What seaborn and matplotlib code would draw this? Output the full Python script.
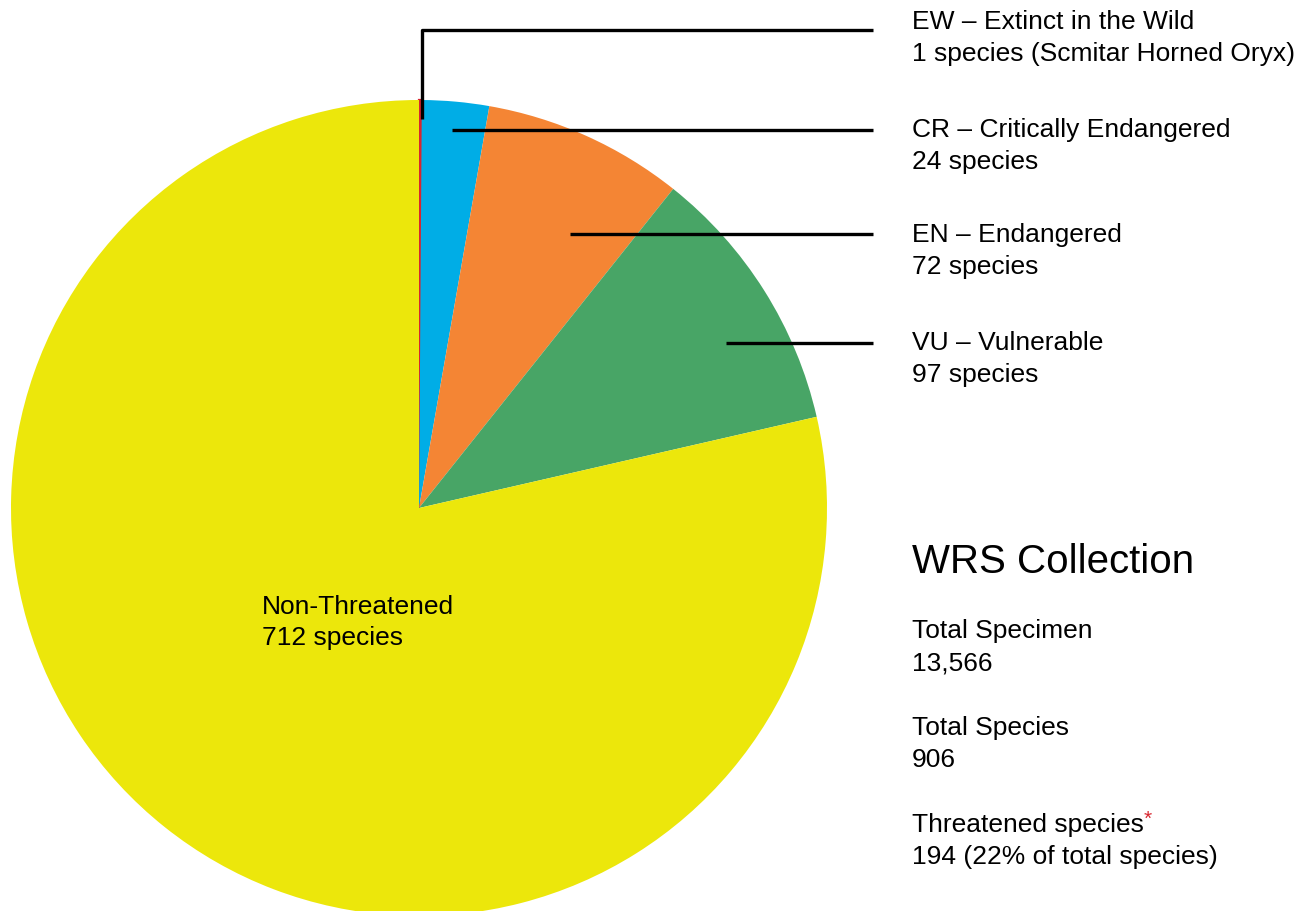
import matplotlib
matplotlib.use('Agg')
import matplotlib.pyplot as plt
import seaborn as sns

# ── Data ──
categories = ["EW", "CR", "EN", "VU", "Non-Threatened"]
species_counts = [1, 24, 72, 97, 712]
slice_colors = ["#D8262F", "#00ADE6", "#F48534", "#48A566", "#ECE70B"]

label_titles = ["EW – Extinct in the Wild", "CR – Critically Endangered",
                "EN – Endangered", "VU – Vulnerable"]
label_subs = ["1 species (Scmitar Horned Oryx)", "24 species",
              "72 species", "97 species"]

summary_title = "WRS Collection"
summary_heads = ["Total Specimen", "Total Species", "Threatened species"]
summary_values = ["13,566", "906", "194 (22% of total species)"]

# ── Style ──
sns.set_theme(style="white")
plt.rcParams['font.family'] = ['Liberation Sans', 'DejaVu Sans']
plt.rcParams['text.color'] = 'black'

W, H = 1302, 911
fig = plt.figure(figsize=(W / 100, H / 100), dpi=100)
ax = fig.add_axes([0, 0, 1, 1])


def Y(y_top):
    """pixel row (from top) -> data y"""
    return H - y_top


cx, cy, r = 419, 508, 408
wedges, _ = ax.pie(species_counts, colors=slice_colors, startangle=90,
                   counterclock=False, center=(cx, Y(cy)), radius=r,
                   wedgeprops={'linewidth': 0})
# the 1-species slice is barely a pixel wide: outline it so it stays visible
wedges[0].set_edgecolor(slice_colors[0])
wedges[0].set_linewidth(1.6)
ax.set_xlim(0, W)
ax.set_ylim(0, H)
ax.set_aspect('auto')
ax.axis('off')

# ── Leader lines ──
lw = 2.4
ax.plot([422, 422, 873], [Y(119), Y(30), Y(30)], color='black', lw=lw,
        solid_capstyle='butt')
for x0, y0 in [(452, 130), (570, 234), (726, 343)]:
    ax.plot([x0, 873], [Y(y0), Y(y0)], color='black', lw=lw,
            solid_capstyle='butt')

# ── Category labels ──
fs = 19
for i, (t, s) in enumerate(zip(label_titles, label_subs)):
    y0 = [22, 130, 235, 343][i]
    ax.text(912, Y(y0), t, fontsize=fs, va='center', ha='left')
    ax.text(912, Y(y0 + 32), s, fontsize=fs, va='center', ha='left')

ax.text(262, Y(607), categories[-1], fontsize=fs, va='center', ha='left')
ax.text(262, Y(638), f"{species_counts[-1]} species", fontsize=fs,
        va='center', ha='left')

# ── Summary block ──
ax.text(912, Y(562), summary_title, fontsize=29, va='center', ha='left')
last = None
for i, (h, v) in enumerate(zip(summary_heads, summary_values)):
    y0 = 631 + i * 97
    last = ax.text(912, Y(y0), h, fontsize=fs, va='center', ha='left')
    ax.text(912, Y(y0 + 32), v, fontsize=fs, va='center', ha='left')
ax.annotate('*', xy=(1, 1), xycoords=last, xytext=(0, 2),
            textcoords='offset points', ha='left', va='top',
            color='#D8262F', fontsize=15)

plt.savefig('out.png', dpi=100)
